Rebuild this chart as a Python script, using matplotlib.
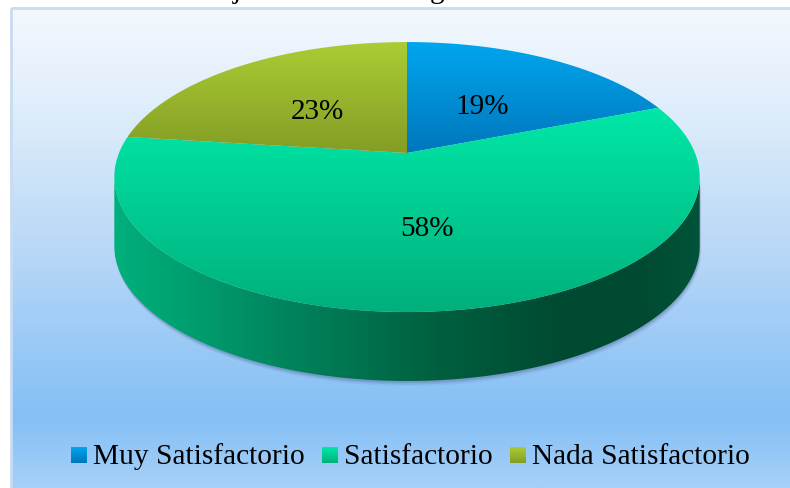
import numpy as np
import matplotlib
matplotlib.use("Agg")
import matplotlib.pyplot as plt
from matplotlib.colors import LinearSegmentedColormap, to_rgba
from matplotlib.patches import Polygon, Rectangle

# data
labels = ["Muy Satisfactorio", "Satisfactorio", "Nada Satisfactorio"]
values = [19, 58, 23]
top_colors = ["#00a6ee", "#00e8a8", "#abcc34"]
bottom_colors = ["#0076bb", "#00b07c", "#849d25"]

plt.rcParams["font.family"] = ["Liberation Serif", "DejaVu Serif"]

W, H = 790, 488
fig = plt.figure(figsize=(W / 100, H / 100), dpi=100)
ax = fig.add_axes([0, 0, 1, 1])
ax.set_xlim(0, W)
ax.set_ylim(H, 0)
ax.axis("off")

# pie geometry in pixels (perspective view of a flat disc)
cx, cy = 407, 153
sx, sy = 288, 130.7
persp = 0.178
depth = 69


def proj(theta, r=1.0, dy=0.0):
    th = np.radians(theta)
    u = r * np.sin(th)
    v = r * np.cos(th)
    k = 1 + persp * v
    return cx + sx * u / k, cy - sy * v / k + dy


def vgrad(c_top, c_bot, n=256):
    a = np.array(to_rgba(c_top))
    b = np.array(to_rgba(c_bot))
    f = np.linspace(0, 1, n)[:, None]
    return (a * (1 - f) + b * f)[:, None, :]


def fill_gradient(patch, img, zorder):
    ax.add_patch(patch)
    x0, y0 = patch.get_xy().min(axis=0)
    x1, y1 = patch.get_xy().max(axis=0)
    im = ax.imshow(img, extent=(x0, x1, y1, y0), origin="upper",
                   aspect="auto", interpolation="bilinear", zorder=zorder)
    im.set_clip_path(patch)


# chart area background
bg_cmap = LinearSegmentedColormap.from_list(
    "bg", [(0.0, "#f3f8fe"), (0.2, "#e0eefb"), (0.5, "#b9d8f7"),
           (0.85, "#84bff5"), (1.0, "#a6d0f8")])
frame = Rectangle((11, 8), W, H, facecolor="none", edgecolor="#c7dbf2",
                  linewidth=2, zorder=1)
ax.add_patch(frame)
bg = bg_cmap(np.linspace(0, 1, 256))[:, None, :]
im = ax.imshow(bg, extent=(11, W, H, 8), origin="upper", aspect="auto",
               interpolation="bilinear", zorder=0)
im.set_clip_path(frame)

# the cut off title above the frame (only the descenders show)
ax.text(237, -1.5, "j", fontsize=21, ha="center", va="baseline", zorder=5)
ax.text(437, -1.5, "g", fontsize=21, ha="center", va="baseline", zorder=5)

# slice angles
fracs = np.array(values) / np.sum(values)
edges = np.concatenate([[0], np.cumsum(fracs) * 360])

# visible side (front arc between the two tangent points)
t_right = np.degrees(np.arccos(-persp))
t_left = 360 - t_right
arc = np.linspace(t_right, t_left, 200)
ux, uy = proj(arc)
lx, ly = proj(arc[::-1], dy=depth)
side_xy = np.column_stack([np.concatenate([ux, lx]), np.concatenate([uy, ly])])

# soft shadow under the side
for off, al in [(5, 0.06), (3.5, 0.1), (2, 0.16)]:
    sh = Polygon(side_xy + [off * 0.3, off], closed=True,
                 facecolor="#2c3c6a", edgecolor="none", alpha=al, zorder=2)
    ax.add_patch(sh)

side_cmap = LinearSegmentedColormap.from_list(
    "side", [(0.0, "#00b07c"), (0.12, "#00a070"), (0.32, "#00805a"),
             (0.55, "#00603f"), (0.75, "#004b32"), (0.9, "#004a31"),
             (1.0, "#005439")])
side_img = side_cmap(np.linspace(0, 1, 256))[None, :, :]
fill_gradient(Polygon(side_xy, closed=True, facecolor="none",
                      edgecolor="none"), side_img, zorder=3)

# top faces
for i in range(len(values)):
    a = np.linspace(edges[i], edges[i + 1], 200)
    px, py = proj(a)
    xy = np.column_stack([np.concatenate([[cx], px]),
                          np.concatenate([[cy], py])])
    patch = Polygon(xy, closed=True, facecolor="none", edgecolor="none")
    fill_gradient(patch, vgrad(top_colors[i], bottom_colors[i]), zorder=4)

    mid = (edges[i] + edges[i + 1]) / 2
    lx_, ly_ = proj(mid, r=0.5)
    ax.text(lx_, ly_ + 1.5, f"{values[i]}%", fontsize=21, ha="center",
            va="center_baseline", zorder=6)

# legend drawn by hand so it sits like the original
fig.canvas.draw()
renderer = fig.canvas.get_renderer()
x = 71
box = 16
for i, lab in enumerate(labels):
    im = ax.imshow(vgrad(top_colors[i], bottom_colors[i]),
                   extent=(x, x + box, 447 + box, 447), origin="upper",
                   aspect="auto", zorder=5)
    t = ax.text(x + box + 6, 464, lab, fontsize=21.2, ha="left",
                va="baseline", zorder=6)
    bb = t.get_window_extent(renderer)
    x = x + box + 6 + bb.width + 17

fig.savefig("out.png", dpi=100)
